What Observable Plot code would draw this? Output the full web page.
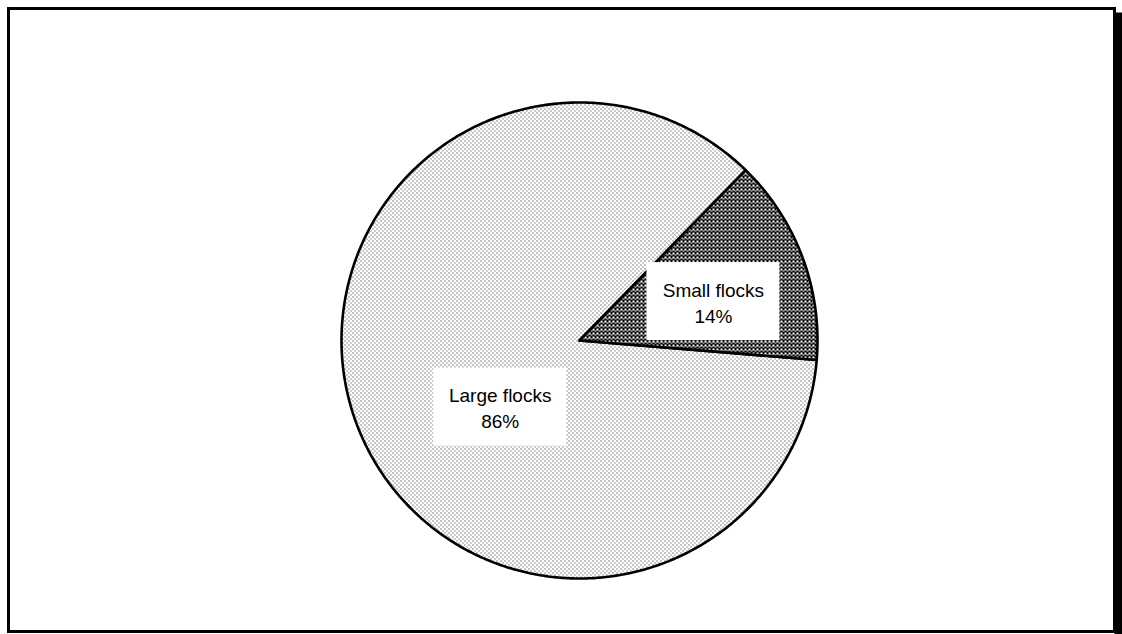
<!DOCTYPE html>
<html><head><meta charset="utf-8">
<script src="https://cdn.jsdelivr.net/npm/d3@7"></script>
<script src="https://cdn.jsdelivr.net/npm/@observablehq/plot@0.6"></script>
<style>html,body{margin:0;padding:0;background:#fff} svg{display:block}</style>
</head><body><div id="chart"></div>
<script>
// ---- data ----
const categories = ["Small flocks", "Large flocks"];
const shares = [14, 86];
const valueLabels = ["14%", "86%"];

// ---- layout / style ----
const W = 1122, H = 634, cx = 579, cy = 340, R = 238;
const startAngleDeg = 44.3; // clockwise from 12 o'clock, where the first slice begins
const fills = {"Small flocks": "url(#patSmall)", "Large flocks": "url(#patLarge)"};
const labelPos = {"Small flocks": {angle: 73.8, r: 0.586}, "Large flocks": {angle: 230, r: 0.435}};
const box = {w: 133, h: 78};

const data = categories.map((c, i) => ({category: c, value: shares[i], label: valueLabels[i]}));
const a0 = startAngleDeg * Math.PI / 180;
const arcs = d3.pie().sort(null).value(d => d.value).startAngle(a0).endAngle(a0 + 2 * Math.PI)(data);

const polys = [];
arcs.forEach(a => {
  const c = a.data.category;
  const n = Math.max(2, Math.ceil((a.endAngle - a.startAngle) / (Math.PI / 360)));
  polys.push({category: c, x: 0, y: 0});
  for (let k = 0; k <= n; k++) {
    const t = a.startAngle + (a.endAngle - a.startAngle) * k / n;
    polys.push({category: c, x: Math.sin(t), y: Math.cos(t)});
  }
  polys.push({category: c, x: 0, y: 0});
});

const labels = data.map(d => {
  const p = labelPos[d.category];
  const t = p.angle * Math.PI / 180;
  const x = Math.sin(t) * p.r, y = Math.cos(t) * p.r;
  const hw = box.w / 2 / R, hh = box.h / 2 / R;
  return {...d, x, y, x1: x - hw, x2: x + hw, y1: y - hh, y2: y + hh};
});

const order = ["Large flocks", "Small flocks"];
const svg = Plot.plot({
  width: W, height: H,
  margin: 0,
  x: {domain: [-cx / R, (W - cx) / R], range: [0, W], axis: null},
  y: {domain: [(cy - H) / R, cy / R], range: [H, 0], axis: null},
  marks: [
    ...order.map(c => Plot.line(polys.filter(d => d.category === c), {
      x: "x", y: "y", fill: fills[c], stroke: "black", strokeWidth: 2.6, strokeLinejoin: "round"
    })),
    Plot.rect(labels, {x1: "x1", x2: "x2", y1: "y1", y2: "y2", fill: "white"}),
    Plot.text(labels, {x: "x", y: "y", text: d => d.category + "\n" + d.label,
      fontSize: 19, lineHeight: 1.35, fill: "black",
      fontFamily: "'Liberation Sans', Arial, Helvetica, sans-serif"}),
    Plot.frame({stroke: "black", strokeWidth: 3, insetLeft: 8, insetTop: 8, insetRight: 8, insetBottom: 3}),
    Plot.frame({fill: "black", stroke: null, insetLeft: 1114, insetTop: 12})
  ]
});

const defs = d3.select(svg).insert("defs", ":first-child");
const pl = defs.append("pattern").attr("id", "patLarge").attr("patternUnits", "userSpaceOnUse")
  .attr("width", 4).attr("height", 4);
pl.append("rect").attr("width", 4).attr("height", 4).attr("fill", "white");
pl.append("rect").attr("x", 0).attr("y", 0).attr("width", 1).attr("height", 1).attr("fill", "#111");
pl.append("rect").attr("x", 2).attr("y", 2).attr("width", 1).attr("height", 1).attr("fill", "#333");
const ps = defs.append("pattern").attr("id", "patSmall").attr("patternUnits", "userSpaceOnUse")
  .attr("width", 4).attr("height", 4);
ps.append("rect").attr("width", 4).attr("height", 4).attr("fill", "black");
ps.append("rect").attr("x", 0).attr("y", 0).attr("width", 2).attr("height", 2).attr("fill", "white");
ps.append("rect").attr("x", 2).attr("y", 2).attr("width", 2).attr("height", 1).attr("fill", "white");

document.getElementById("chart").appendChild(svg);
</script>
</body></html>
